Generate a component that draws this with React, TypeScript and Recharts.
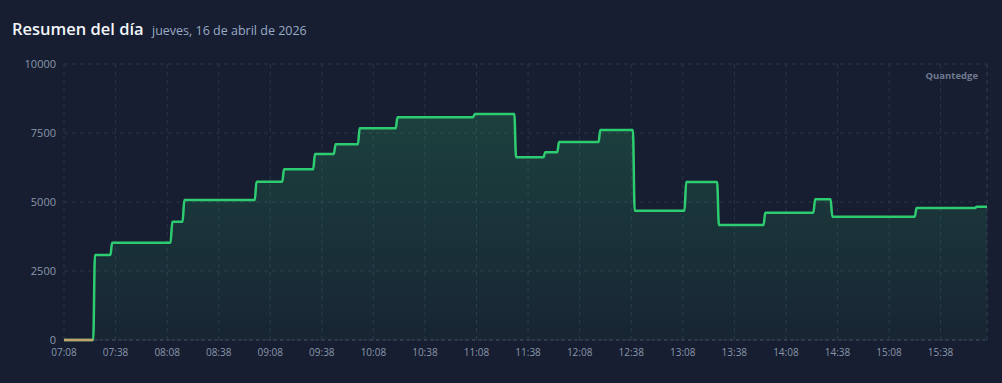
import React, { useEffect } from "react";
import {
  ComposedChart,
  Area,
  Line,
  XAxis,
  YAxis,
  CartesianGrid,
  ReferenceLine,
} from "recharts";

// equity through the session, one entry per point where the value changes
// (the entry one minute before each change holds the previous value)
const times = [
  "07:08", "07:25", "07:26", "07:35", "07:36", "08:10", "08:11", "08:17", "08:18",
  "08:59", "09:00", "09:15", "09:16", "09:33", "09:34", "09:45", "09:46", "09:59",
  "10:00", "10:21", "10:22", "11:06", "11:07", "11:30", "11:31", "11:47", "11:48",
  "11:55", "11:56", "12:19", "12:20", "12:39", "12:40", "13:09", "13:10", "13:28",
  "13:29", "13:55", "13:56", "14:24", "14:25", "14:34", "14:35", "15:23", "15:24",
  "15:58", "15:59", "16:05",
];
const values = [
  0, 0, 3080, 3080, 3525, 3525, 4280, 4280, 5070,
  5070, 5735, 5735, 6185, 6185, 6740, 6740, 7090, 7090,
  7670, 7670, 8070, 8070, 8190, 8190, 6620, 6620, 6800,
  6800, 7170, 7170, 7610, 7610, 4685, 4685, 5725, 5725,
  4165, 4165, 4612, 4612, 5097, 5097, 4470, 4470, 4780,
  4780, 4830, 4830,
];
// flat pre-open stretch drawn in amber
const preOpenTimes = ["07:08", "07:25"];
const preOpenValues = [0, 0];

const xTickLabels = [
  "07:08", "07:38", "08:08", "08:38", "09:08", "09:38", "10:08", "10:38", "11:08",
  "11:38", "12:08", "12:38", "13:08", "13:38", "14:08", "14:38", "15:08", "15:38",
];
const yTicks = [0, 2500, 5000, 7500, 10000];

const START = "07:08";
const toMin = (t: string) => {
  const [h, m] = t.split(":").map(Number);
  const [h0, m0] = START.split(":").map(Number);
  return h * 60 + m - (h0 * 60 + m0);
};
const fromMin = (v: number) => {
  const [h0, m0] = START.split(":").map(Number);
  const total = h0 * 60 + m0 + v;
  const h = Math.floor(total / 60);
  const m = total % 60;
  return `${String(h).padStart(2, "0")}:${String(m).padStart(2, "0")}`;
};

const data = times.map((t, i) => {
  const j = preOpenTimes.indexOf(t);
  return { m: toMin(t), value: values[i], pre: j >= 0 ? preOpenValues[j] : null };
});
const endMin = toMin(times[times.length - 1]);

const BG = "#171e31";
const GRID = "#2b3448";
const TICK = "#8a96ab";
const GREEN = "#2ecc71";
const FONT = "'Open Sans', 'Noto Sans', sans-serif";

export default function App() {
  useEffect(() => {
    document.body.style.margin = "0";
    document.body.style.background = BG;
  }, []);

  return (
    <div style={{ position: "relative", width: 1002, height: 383, background: BG, overflow: "hidden" }}>
      <ComposedChart
        width={1002}
        height={383}
        data={data}
        margin={{ top: 64, right: 15, bottom: 13, left: 0 }}
      >
        <defs>
          <linearGradient id="eqFill" x1="0" y1="0" x2="0" y2="1">
            <stop offset="0%" stopColor={GREEN} stopOpacity={0.2} />
            <stop offset="100%" stopColor={GREEN} stopOpacity={0.04} />
          </linearGradient>
        </defs>
        <CartesianGrid stroke={GRID} strokeDasharray="4 4" />
        <ReferenceLine x={endMin} stroke={GRID} strokeDasharray="4 4" />
        <ReferenceLine y={0} stroke="#414b60" strokeDasharray="3 3" />
        <XAxis
          dataKey="m"
          type="number"
          domain={[0, endMin]}
          ticks={xTickLabels.map(toMin)}
          tickFormatter={fromMin}
          tick={{ fill: TICK, fontSize: 10, fontFamily: FONT }}
          tickLine={false}
          tickMargin={3}
          axisLine={false}
          interval={0}
        />
        <YAxis
          domain={[0, 10000]}
          ticks={yTicks}
          width={64}
          tick={{ fill: TICK, fontSize: 11, fontFamily: FONT }}
          tickLine={false}
          tickMargin={2}
          axisLine={false}
        />
        <Area
          type="monotone"
          dataKey="value"
          stroke={GREEN}
          strokeWidth={2.5}
          fill="url(#eqFill)"
          fillOpacity={1}
          dot={false}
          activeDot={false}
          isAnimationActive={false}
        />
        <Line
          type="linear"
          dataKey="pre"
          stroke="#c2a36b"
          strokeWidth={2.5}
          dot={false}
          activeDot={false}
          isAnimationActive={false}
        />
      </ComposedChart>
      <svg
        width={1002}
        height={383}
        style={{ position: "absolute", left: 0, top: 0, pointerEvents: "none" }}
      >
        <text x={12} y={35} fill="#f2f5fa" fontSize={16.5} fontWeight={600} fontFamily={FONT}>
          Resumen del día
        </text>
        <text x={152} y={35} fill="#9aabc6" fontSize={12.5} fontFamily={FONT}>
          jueves, 16 de abril de 2026
        </text>
        <text x={978} y={79} fill="#6f7a8e" fontSize={9.5} fontWeight={700} fontFamily={FONT} textAnchor="end">
          Quantedge
        </text>
      </svg>
    </div>
  );
}
